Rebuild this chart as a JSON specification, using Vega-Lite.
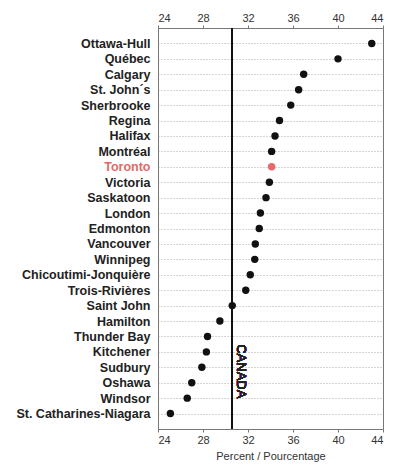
{
  "$schema": "https://vega.github.io/schema/vega-lite/v6.json",
  "autosize": {"type": "none"},
  "padding": {"left": 158, "top": 28, "right": 10, "bottom": 36},
  "width": 225,
  "height": 401,
  "config": {
    "view": {"stroke": "#777", "strokeWidth": 1},
    "font": "Liberation Sans",
    "axis": {"labelFont": "Liberation Sans", "titleFont": "Liberation Sans"}
  },
  "data": {
    "values": [
      {"city": "Ottawa-Hull", "pct": 43.0},
      {"city": "Québec", "pct": 40.0},
      {"city": "Calgary", "pct": 36.95},
      {"city": "St. John´s", "pct": 36.5},
      {"city": "Sherbrooke", "pct": 35.8},
      {"city": "Regina", "pct": 34.8},
      {"city": "Halifax", "pct": 34.4},
      {"city": "Montréal", "pct": 34.1},
      {"city": "Toronto", "pct": 34.1},
      {"city": "Victoria", "pct": 33.9},
      {"city": "Saskatoon", "pct": 33.6},
      {"city": "London", "pct": 33.1},
      {"city": "Edmonton", "pct": 33.0},
      {"city": "Vancouver", "pct": 32.65},
      {"city": "Winnipeg", "pct": 32.6},
      {"city": "Chicoutimi-Jonquière", "pct": 32.2},
      {"city": "Trois-Rivières", "pct": 31.8},
      {"city": "Saint John", "pct": 30.6},
      {"city": "Hamilton", "pct": 29.5},
      {"city": "Thunder Bay", "pct": 28.4},
      {"city": "Kitchener", "pct": 28.3},
      {"city": "Sudbury", "pct": 27.9},
      {"city": "Oshawa", "pct": 27.0},
      {"city": "Windsor", "pct": 26.6},
      {"city": "St. Catharines-Niagara", "pct": 25.1}
    ]
  },
  "layer": [
    {
      "mark": {"type": "rule", "color": "#111", "strokeWidth": 1.5},
      "encoding": {
        "x": {
          "datum": 30.6,
          "type": "quantitative",
          "scale": {"domain": [24, 44], "nice": false, "zero": false},
          "axis": {
            "orient": "top",
            "title": null,
            "values": [24, 28, 32, 36, 40, 44],
            "grid": false,
            "domain": false,
            "tickSize": 3,
            "tickColor": "#777",
            "labelFontSize": 11,
            "labelColor": "#333",
            "labelPadding": 2
          }
        }
      }
    },
    {
      "mark": {"type": "circle", "size": 55, "opacity": 1},
      "encoding": {
        "y": {
          "field": "city",
          "type": "nominal",
          "sort": null,
          "scale": {"type": "point", "padding": 1},
          "axis": {
            "title": null,
            "grid": true,
            "gridDash": [1, 2],
            "gridColor": "#aaa",
            "gridWidth": 1,
            "ticks": false,
            "domain": false,
            "labelPadding": 8,
            "labelFontSize": 12.5,
            "labelFontWeight": "bold",
            "labelColor": {"condition": {"test": "datum.value === 'Toronto'", "value": "#e06a6a"}, "value": "#222"}
          }
        },
        "x": {
          "field": "pct",
          "type": "quantitative",
          "axis": {
            "orient": "bottom",
            "title": "Percent / Pourcentage",
            "values": [24, 28, 32, 36, 40, 44],
            "grid": false,
            "domain": false,
            "tickSize": 3,
            "tickColor": "#777",
            "labelFontSize": 11,
            "labelColor": "#333",
            "labelPadding": 2,
            "titleFontSize": 11,
            "titleFontWeight": "normal",
            "titleColor": "#333",
            "titlePadding": 5
          }
        },
        "color": {
          "condition": {"test": "datum.city === 'Toronto'", "value": "#e8686a"},
          "value": "#111"
        }
      }
    },
    {
      "mark": {"type": "text", "text": "CANADA", "angle": 90, "align": "center", "baseline": "middle", "dx": 4, "dy": -9, "fontSize": 13, "fill": "#222"},
      "encoding": {
        "x": {"datum": 30.6, "type": "quantitative", "axis": null},
        "y": {"datum": "Sudbury", "type": "nominal"}
      }
    }
  ]
}
